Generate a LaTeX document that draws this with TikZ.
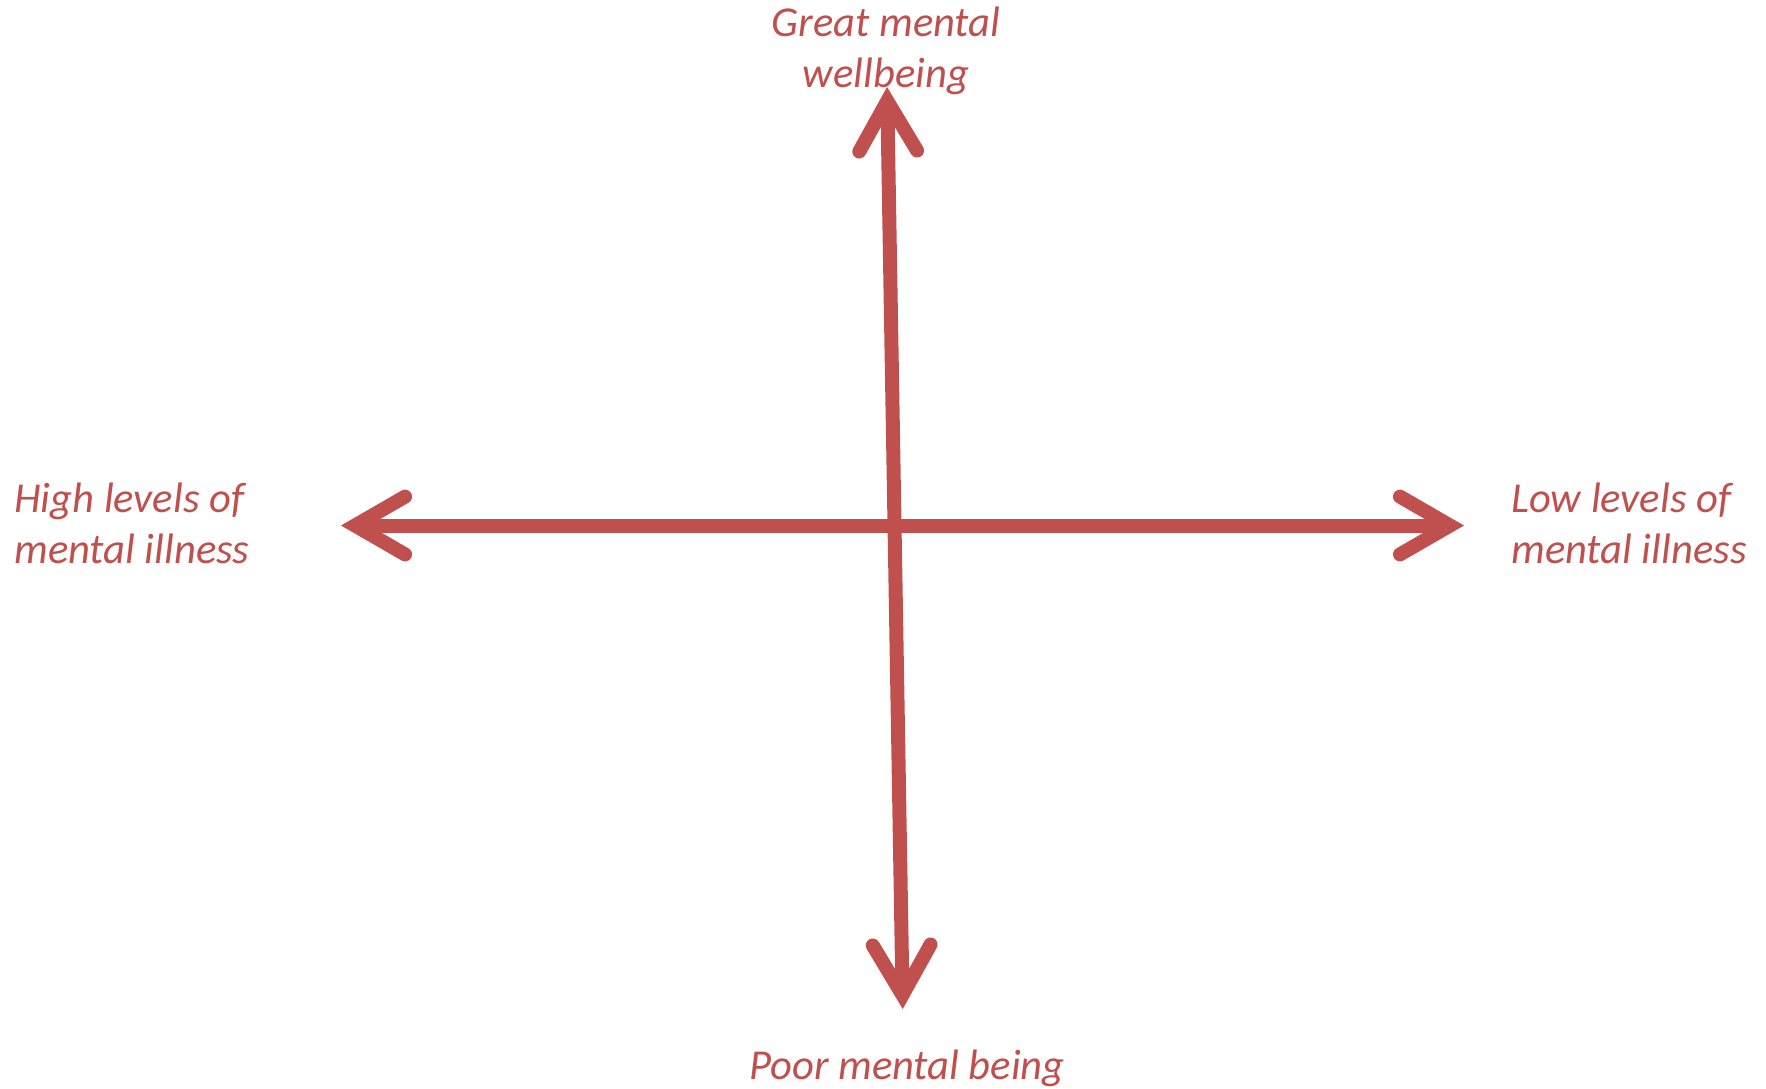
\documentclass[tikz,border=0pt]{standalone}
\usepackage{fontspec}
\setmainfont{Carlito}
\usetikzlibrary{calc}
\definecolor{axisred}{RGB}{192,80,77}
\begin{document}
\begin{tikzpicture}[x=0.5pt,y=-0.5pt,
  axis/.style={draw=axisred,line width=7pt},
  head/.style={draw=axisred,line width=7pt,line cap=round,line join=miter,miter limit=10},
  lbl/.style={text=axisred,font=\fontsize{21.3}{25.5}\selectfont\itshape,inner sep=0pt}]
\useasboundingbox (0,0) rectangle (1766,1088);
\coordinate (top) at (887.3,101);
\coordinate (bot) at (902.5,995);
\coordinate (lft) at (355,525.5);
\coordinate (rgt) at (1450,525.5);
\draw[axis] (top) -- (bot);
\draw[axis] (lft) -- (rgt);
\draw[head] ($(top)!28.9pt!30:(bot)$) -- (top) -- ($(top)!28.9pt!-30:(bot)$);
\draw[head] ($(bot)!28.9pt!30:(top)$) -- (bot) -- ($(bot)!28.9pt!-30:(top)$);
\draw[head] ($(lft)!28.9pt!30:(rgt)$) -- (lft) -- ($(lft)!28.9pt!-30:(rgt)$);
\draw[head] ($(rgt)!28.9pt!30:(lft)$) -- (rgt) -- ($(rgt)!28.9pt!-30:(lft)$);
\node[lbl,align=center,anchor=base] (great) at (886,87) {Great mental\\wellbeing};
\node[lbl,align=left,anchor=base west] (high) at (14,563) {High levels of\\mental illness};
\node[lbl,align=left,anchor=base west] (low) at (1511,563) {Low levels of\\mental illness};
\node[lbl,anchor=base] (poor) at (907,1079) {Poor mental being};
\end{tikzpicture}
\end{document}
